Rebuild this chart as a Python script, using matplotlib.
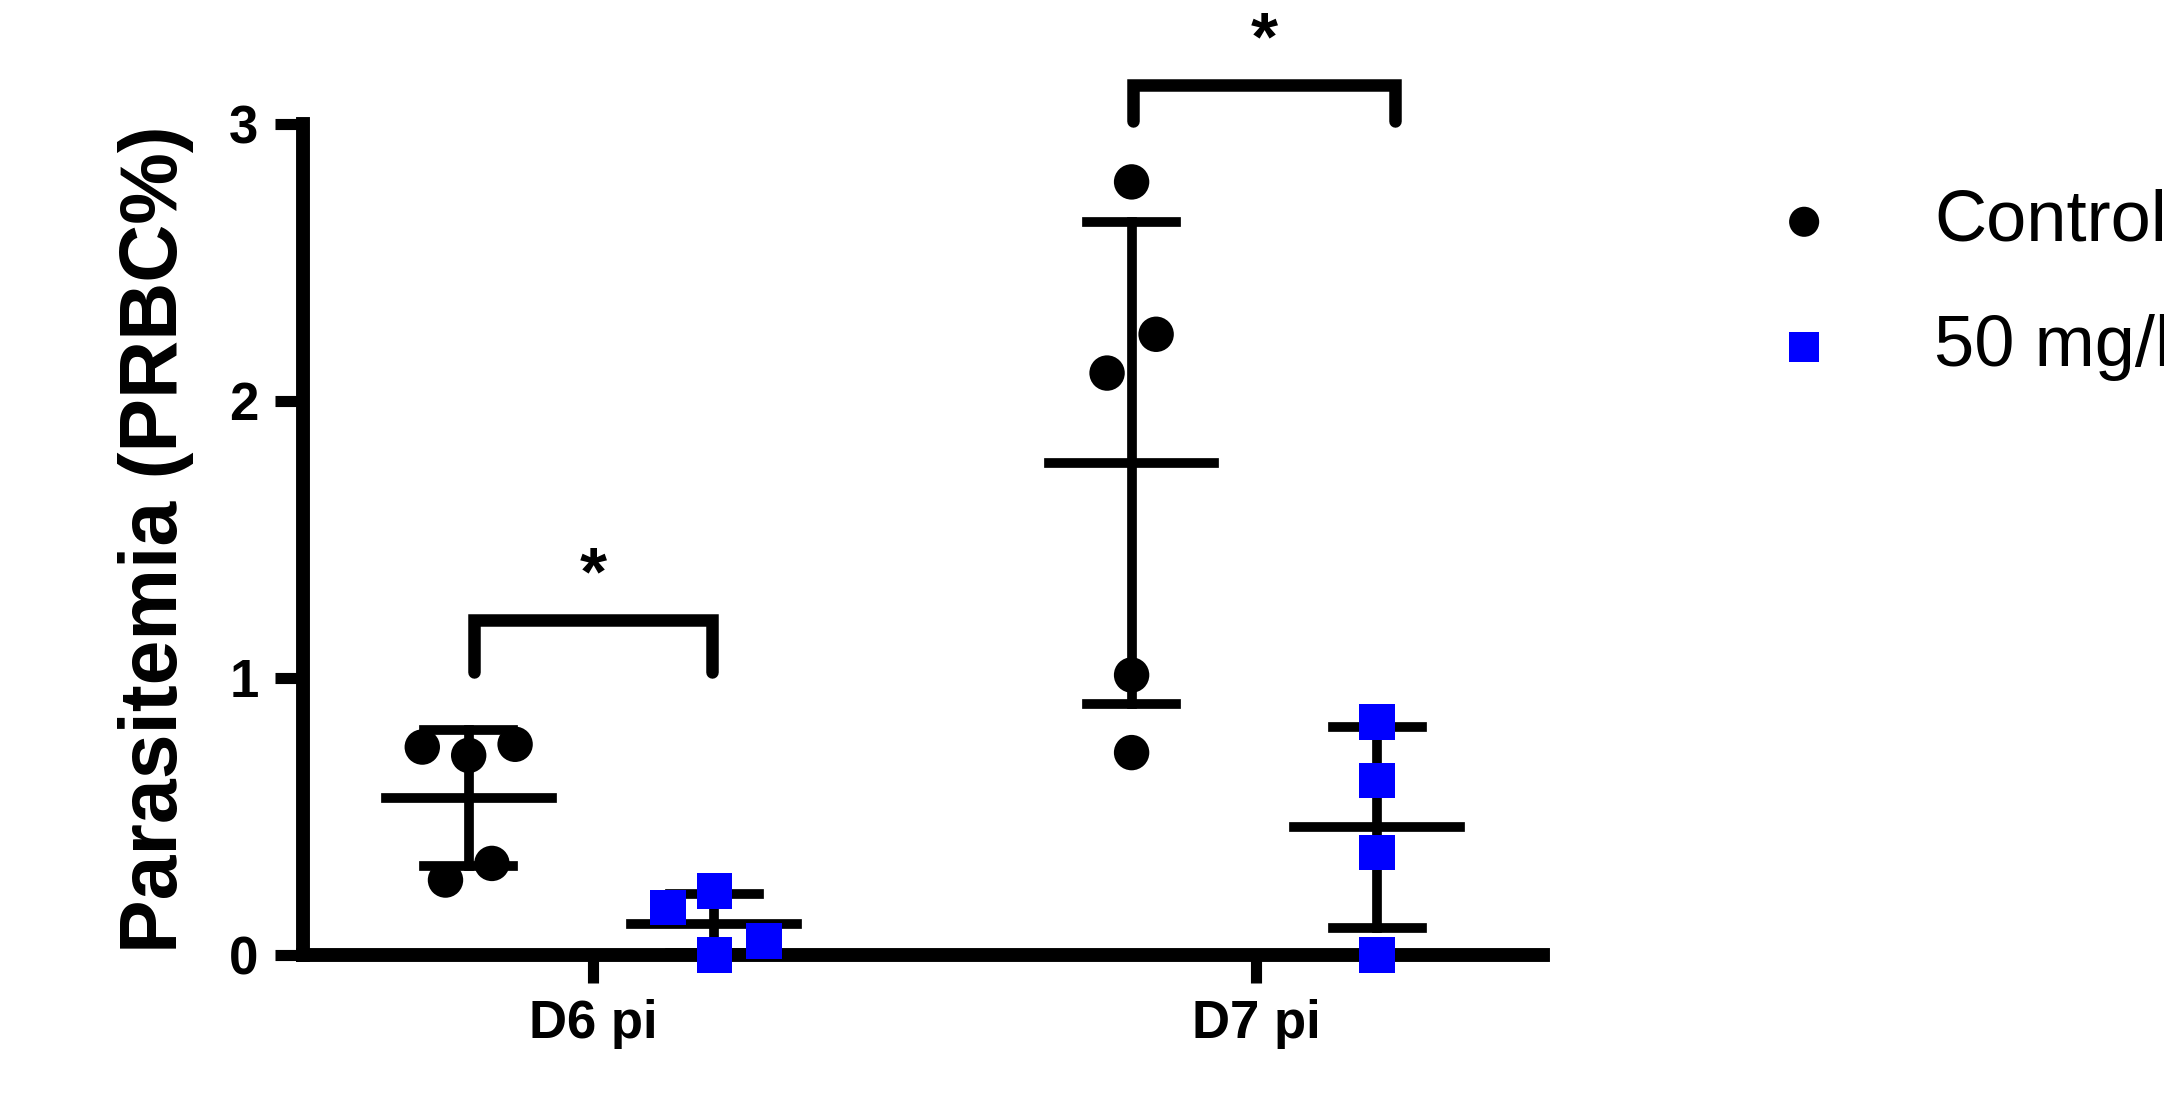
import numpy as np
import matplotlib.pyplot as plt

groups = ['D6 pi', 'D7 pi']
ctrl_d6 = [0.75, 0.72, 0.76, 0.27, 0.33]
ctrl_d6_x = [-0.07, 0.0, 0.07, -0.035, 0.035]
trt_d6 = [0.17, 0.23, 0.0, 0.05]
trt_d6_x = [-0.07, 0.0, 0.0, 0.075]
ctrl_d7 = [2.79, 2.10, 2.24, 1.01, 0.73]
ctrl_d7_x = [0.0, -0.037, 0.037, 0.0, 0.0]
trt_d7 = [0.84, 0.63, 0.37, 0.0]
trt_d7_x = [0.0, 0.0, 0.0, 0.0]

plt.rcParams['font.family'] = ['Liberation Sans', 'DejaVu Sans']
fig = plt.figure(figsize=(21.64, 10.95), dpi=100)
ax = fig.add_axes([0.140, 0.128, 0.573, 0.759])

def draw(vals, offs, cx, color, marker, lbl=None):
    vals = np.array(vals)
    ax.scatter(cx + np.array(offs), vals, s=650, c=color, marker=marker,
               zorder=3, clip_on=False, label=lbl, edgecolors='none')
    m, sd = vals.mean(), vals.std(ddof=1)
    ax.plot([cx - 0.125, cx + 0.125], [m, m], color='black', lw=7, zorder=2)
    for y in (m - sd, m + sd):
        ax.plot([cx - 0.067, cx + 0.067], [y, y], color='black', lw=7, zorder=2)
    ax.plot([cx, cx], [max(m - sd, 0), m + sd], color='black', lw=7, zorder=2)

draw(ctrl_d6, ctrl_d6_x, 0.8125, 'black', 'o', 'Control')
draw(trt_d6, trt_d6_x, 1.183, '#0000ff', 's', '50 mg/kg')
draw(ctrl_d7, ctrl_d7_x, 1.8125, 'black', 'o')
draw(trt_d7, trt_d7_x, 2.183, '#0000ff', 's')

def bracket(x1, x2, ylo, yhi):
    ax.plot([x1, x1, x2, x2], [ylo, yhi, yhi, ylo], color='black', lw=9,
            clip_on=False, solid_capstyle='round', solid_joinstyle='miter')
    ax.text((x1 + x2) / 2, yhi + 0.04, '*', ha='center', va='bottom',
            fontsize=50, fontweight='bold', clip_on=False)

bracket(0.82, 1.18, 1.02, 1.21)
bracket(1.815, 2.21, 3.01, 3.14)

ax.set_xlim(0.5625, 2.433)
ax.set_ylim(0, 3)
ax.set_xticks([1, 2])
ax.set_xticklabels(groups, fontsize=38, fontweight='bold')
ax.set_yticks([0, 1, 2, 3])
ax.set_yticklabels(['0', '1', '2', '3'], fontsize=38, fontweight='bold')
ax.set_ylabel('Parasitemia (PRBC%)', fontsize=58, fontweight='bold', labelpad=25)
for s in ('top', 'right'):
    ax.spines[s].set_visible(False)
for s in ('left', 'bottom'):
    ax.spines[s].set_linewidth(10)
ax.tick_params(width=8, length=20, pad=12)

ax.legend(loc='upper left', bbox_to_anchor=(1.1, 1.0), frameon=False,
          fontsize=52, handletextpad=0.8, labelspacing=0.8, scatterpoints=1,
          markerscale=0.85)

fig.savefig('out.png', dpi=100)
